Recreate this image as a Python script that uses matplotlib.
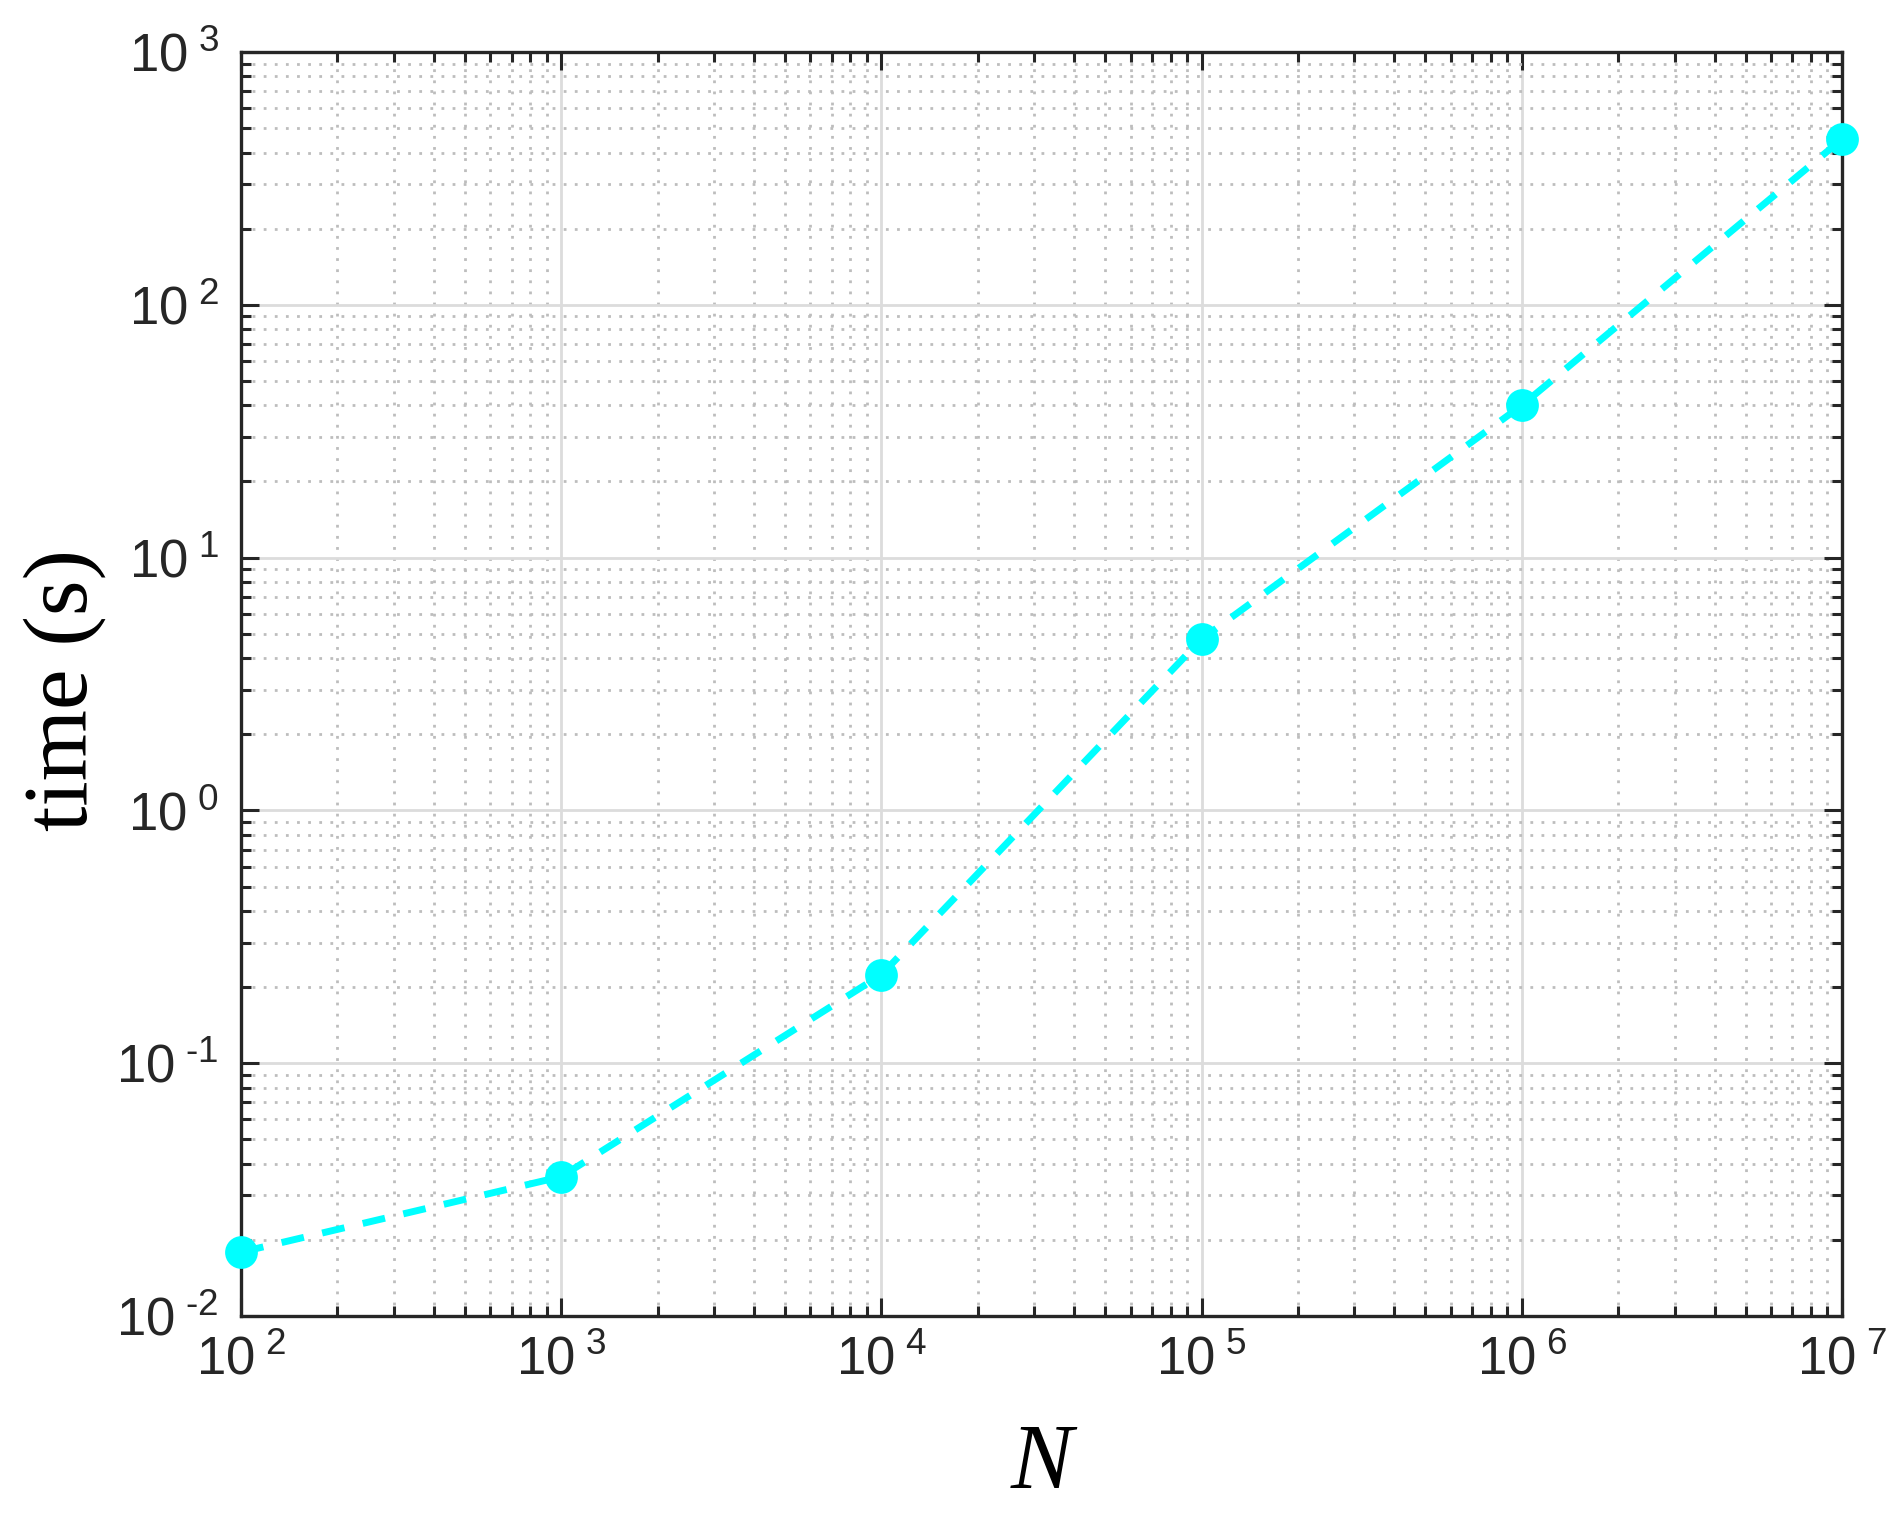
import matplotlib
matplotlib.use('Agg')
import matplotlib.pyplot as plt
from matplotlib.ticker import LogLocator, FixedLocator, FixedFormatter, NullFormatter

# ---- data ----
N_values = [1e2, 1e3, 1e4, 1e5, 1e6, 1e7]
time_values = [0.0179, 0.0356, 0.224, 4.76, 40.0, 452.0]
x_exponents = [2, 3, 4, 5, 6, 7]
y_exponents = [-2, -1, 0, 1, 2, 3]
x_label = 'N'
y_label = 'time (s)'

plt.rcParams['mathtext.fontset'] = 'custom'
plt.rcParams['mathtext.rm'] = 'Liberation Sans'
plt.rcParams['mathtext.it'] = 'Liberation Sans:italic'
plt.rcParams['mathtext.bf'] = 'Liberation Sans:bold'
plt.rcParams['font.family'] = ['Liberation Sans', 'DejaVu Sans']
plt.rcParams['axes.unicode_minus'] = False

DARK = '#262626'

fig = plt.figure(figsize=(9.49, 7.595), dpi=200)
ax = fig.add_axes([0.127, 0.1336, 0.8435, 0.8322])

ax.plot(N_values, time_values, color='#00ffff', lw=2.5, dashes=(3.3, 2.7),
        dash_capstyle='butt', marker='o', ms=10.8, mec='#00ffff', mfc='#00ffff',
        zorder=3, clip_on=False)

ax.set_xscale('log')
ax.set_yscale('log')
ax.set_xlim(1e2, 1e7)
ax.set_ylim(1e-2, 1e3)

def lab(e):
    return r'$\mathregular{10^{\ %s}}$' % (('\u2010' if e < 0 else '') + str(abs(e)))

ax.xaxis.set_major_locator(FixedLocator([10.0 ** e for e in x_exponents]))
ax.xaxis.set_major_formatter(FixedFormatter([lab(e) for e in x_exponents]))
ax.yaxis.set_major_locator(FixedLocator([10.0 ** e for e in y_exponents]))
ax.yaxis.set_major_formatter(FixedFormatter([lab(e) for e in y_exponents]))
ax.xaxis.set_minor_locator(LogLocator(base=10, subs=range(2, 10), numticks=50))
ax.yaxis.set_minor_locator(LogLocator(base=10, subs=range(2, 10), numticks=50))
ax.xaxis.set_minor_formatter(NullFormatter())
ax.yaxis.set_minor_formatter(NullFormatter())

ax.set_axisbelow(True)
ax.grid(which='major', color='#dcdcdc', lw=1.0, ls='-')
ax.grid(which='minor', color='#bdbdbd', lw=1.0, ls=(0, (1, 3)))

for s in ax.spines.values():
    s.set_color(DARK)
    s.set_linewidth(1.2)

ax.tick_params(which='both', direction='in', top=True, right=True,
               color=DARK, width=1.1, labelcolor=DARK, labelsize=19)
ax.tick_params(which='major', length=6.5)
ax.tick_params(which='minor', length=3.6)
ax.tick_params(axis='x', which='major', pad=7)
ax.tick_params(axis='y', which='major', pad=8)

ax.set_xlabel(x_label, fontfamily='Liberation Serif', fontstyle='italic',
              fontsize=33.5, color='black', va='baseline')
ax.xaxis.set_label_coords(0.5, -0.136)
ax.set_ylabel(y_label, fontfamily='Liberation Serif', fontsize=33,
              color='black', va='baseline')
ax.yaxis.set_label_coords(-0.0962, 0.495)

fig.savefig('out.png', dpi=200)
